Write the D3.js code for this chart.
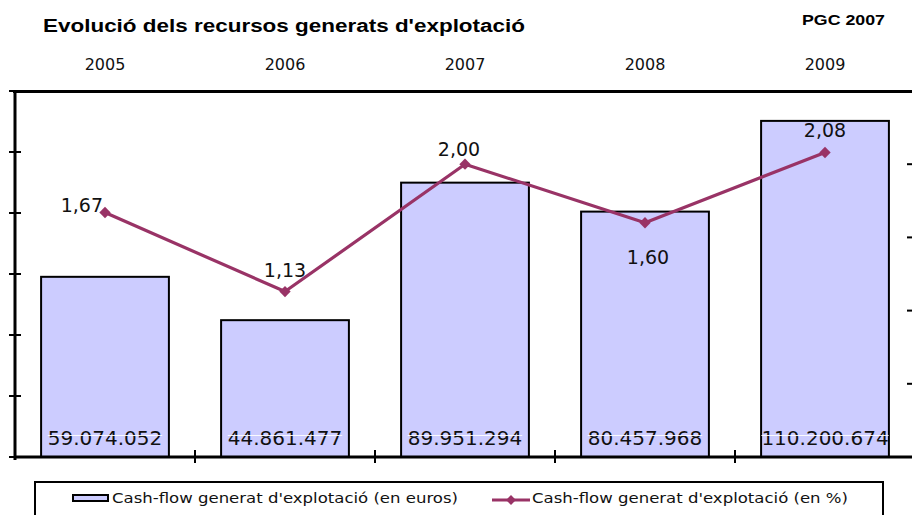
<!DOCTYPE html>
<html><head><meta charset="utf-8">
<script src="https://cdn.jsdelivr.net/npm/d3@7"></script>
<style>body{margin:0;background:#fff;overflow:hidden}svg{display:block}</style>
</head><body>
<script>
// ---- data ----
const years = ["2005","2006","2007","2008","2009"];
const cashEuros = [59074052, 44861477, 89951294, 80457968, 110200674];
const cashPct = [1.67, 1.13, 2.00, 1.60, 2.08];
const euroDomain = [0, 120000000];
const pctDomain = [0, 2.5];
const titleText = "Evolució dels recursos generats d'explotació";
const badgeText = "PGC 2007";
const legendLabels = ["Cash-flow generat d'explotació (en euros)", "Cash-flow generat d'explotació (en %)"];

// ---- layout / style ----
const W = 912, H = 515;
const plot = {left: 15, right: 915, top: 91, bottom: 457};
const barFill = "#CCCCFF", lineColor = "#993366";
const numFont = "'DejaVu Sans', Verdana, sans-serif";
const lineLabelPos = [
  {anchor: "end", dx: -2, dy: -1},
  {anchor: "middle", dx: 0, dy: -15},
  {anchor: "middle", dx: -6, dy: -8},
  {anchor: "middle", dx: 3, dy: 41},
  {anchor: "middle", dx: 0, dy: -15}
];

const svg = d3.select("body").append("svg").attr("width", W).attr("height", H);
const loc = d3.formatLocale({decimal: ",", thousands: ".", grouping: [3], currency: ["", "€"]});
const fmtEuro = loc.format(",d");
const fmtPct = loc.format(",.2f");

const xCat = d3.scaleBand().domain(years).range([plot.left, plot.right]);
const xBar = d3.scaleBand().domain(years).range([plot.left, plot.right]).paddingInner(0.29).paddingOuter(0.145);
const yL = d3.scaleLinear().domain(euroDomain).range([plot.bottom, plot.top]);
const yR = d3.scaleLinear().domain(pctDomain).range([plot.bottom, plot.top]);
const cx = y => xCat(y) + xCat.bandwidth() / 2;

// title
svg.append("text").attr("x", 43).attr("y", 32)
  .attr("font-family", "'Liberation Sans', Arial, sans-serif").attr("font-weight", "bold")
  .attr("font-size", 18).attr("textLength", 482).attr("lengthAdjust", "spacingAndGlyphs").text(titleText);
svg.append("text").attr("x", 802).attr("y", 25)
  .attr("font-family", "'Liberation Sans', Arial, sans-serif").attr("font-weight", "bold")
  .attr("font-size", 15).attr("textLength", 83).attr("lengthAdjust", "spacingAndGlyphs").text(badgeText);

// year labels (top)
svg.append("g").selectAll("text").data(years).join("text")
  .attr("x", d => cx(d)).attr("y", 70).attr("text-anchor", "middle")
  .attr("font-family", numFont).attr("font-size", 16).attr("fill", "#111").text(d => d);

// bars
const bars = years.map((y, i) => ({year: y, v: cashEuros[i]}));
svg.append("g").selectAll("rect").data(bars).join("rect")
  .attr("x", d => xBar(d.year)).attr("width", xBar.bandwidth())
  .attr("y", d => yL(d.v)).attr("height", d => yL(0) - yL(d.v))
  .attr("fill", barFill).attr("stroke", "#000").attr("stroke-width", 2);

// bar labels
const bl = svg.append("g");
bars.forEach(d => {
  const c = xBar(d.year) + xBar.bandwidth() / 2;
  const t = bl.append("text").attr("x", c).attr("y", yL(0) - 12)
    .attr("text-anchor", "middle").attr("font-family", numFont).attr("font-size", 20)
    .attr("fill", "#111").text(fmtEuro(d.v));
  const w = t.node().getComputedTextLength();
  bl.append("line").attr("x1", c - w / 2).attr("x2", c + w / 2)
    .attr("y1", yL(0) - 21.5).attr("y2", yL(0) - 21.5)
    .attr("stroke", "#fff").attr("stroke-width", 1).attr("opacity", 0.9);
});

// axes lines
const ax = svg.append("g").attr("stroke", "#000");
ax.append("line").attr("x1", plot.left - 2).attr("x2", plot.right).attr("y1", plot.top + 0.5).attr("y2", plot.top + 0.5).attr("stroke-width", 3);
ax.append("line").attr("x1", plot.left).attr("x2", plot.right).attr("y1", plot.bottom).attr("y2", plot.bottom).attr("stroke-width", 3);
ax.append("line").attr("x1", plot.left).attr("x2", plot.left).attr("y1", plot.top - 1).attr("y2", plot.bottom + 3).attr("stroke-width", 3);
ax.append("line").attr("x1", plot.right).attr("x2", plot.right).attr("y1", plot.top).attr("y2", plot.bottom).attr("stroke-width", 3);
// left ticks
ax.selectAll(".lt").data(yL.ticks(6)).join("line")
  .attr("x1", plot.left - 6).attr("x2", plot.left + 6)
  .attr("y1", d => yL(d)).attr("y2", d => yL(d)).attr("stroke-width", 2);
// right ticks
ax.selectAll(".rt").data(yR.ticks(5)).join("line")
  .attr("x1", plot.right - 8).attr("x2", plot.right + 6)
  .attr("y1", d => yR(d)).attr("y2", d => yR(d)).attr("stroke-width", 2);
// bottom category ticks
const bounds = years.map(y => xCat(y)).concat([xCat(years[years.length - 1]) + xCat.bandwidth()]);
ax.selectAll(".bt").data(bounds.slice(1)).join("line")
  .attr("x1", d => d).attr("x2", d => d)
  .attr("y1", plot.bottom - 7).attr("y2", plot.bottom + 6).attr("stroke-width", 2);

// line
const pts = years.map((y, i) => ({year: y, v: cashPct[i]}));
svg.append("path").datum(pts)
  .attr("d", d3.line().x(d => cx(d.year)).y(d => yR(d.v)))
  .attr("fill", "none").attr("stroke", lineColor).attr("stroke-width", 3.2).attr("stroke-linejoin", "round");
const diamond = d3.symbol(d3.symbolSquare, 64);
svg.append("g").selectAll("path").data(pts).join("path")
  .attr("d", diamond)
  .attr("transform", d => `translate(${cx(d.year)},${yR(d.v)}) rotate(45)`)
  .attr("fill", lineColor);

// line labels
svg.append("g").selectAll("text").data(pts).join("text")
  .attr("x", (d, i) => cx(d.year) + lineLabelPos[i].dx)
  .attr("y", (d, i) => yR(d.v) + lineLabelPos[i].dy)
  .attr("text-anchor", (d, i) => lineLabelPos[i].anchor)
  .attr("font-family", numFont).attr("font-size", 19).attr("fill", "#111")
  .text(d => fmtPct(d.v));

// legend
const lg = svg.append("g");
lg.append("rect").attr("x", 35).attr("y", 482).attr("width", 848).attr("height", 60)
  .attr("fill", "#fff").attr("stroke", "#000").attr("stroke-width", 2);
lg.append("rect").attr("x", 73).attr("y", 495).attr("width", 35).attr("height", 6)
  .attr("fill", barFill).attr("stroke", "#000").attr("stroke-width", 2);
lg.append("text").attr("x", 112).attr("y", 503).attr("font-family", numFont).attr("font-size", 14.5)
  .attr("fill", "#111").attr("textLength", 346).attr("lengthAdjust", "spacingAndGlyphs").text(legendLabels[0]);
lg.append("line").attr("x1", 492).attr("x2", 530).attr("y1", 500).attr("y2", 500)
  .attr("stroke", lineColor).attr("stroke-width", 3);
lg.append("path").attr("d", d3.symbol(d3.symbolSquare, 48))
  .attr("transform", "translate(511,500) rotate(45)").attr("fill", lineColor);
lg.append("text").attr("x", 532).attr("y", 503).attr("font-family", numFont).attr("font-size", 14.5)
  .attr("fill", "#111").attr("textLength", 316).attr("lengthAdjust", "spacingAndGlyphs").text(legendLabels[1]);
</script>
</body></html>
